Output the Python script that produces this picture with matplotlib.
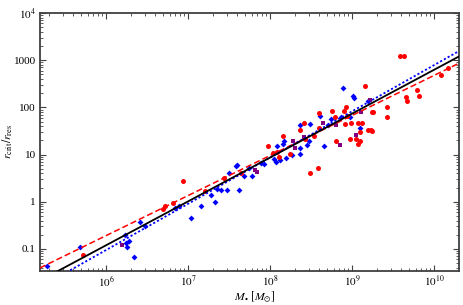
import numpy as np
import matplotlib
matplotlib.use("Agg")
import matplotlib.pyplot as plt
from matplotlib.ticker import FixedLocator, FixedFormatter, LogLocator, NullFormatter

plt.rcParams['font.family'] = ['Liberation Serif', 'DejaVu Serif']
plt.rcParams['mathtext.fontset'] = 'stix'

# log10(M_bh), log10(r_crit/r_res)
blue_logm = [5.28, 5.68, 6.23, 6.24, 6.26, 6.28, 6.34, 6.41, 6.48, 6.84, 6.89, 7.03,
             7.16, 7.28, 7.33, 7.35, 7.40, 7.47, 7.50, 7.59, 7.60, 7.62, 7.68, 7.74,
             7.78, 7.89, 7.93, 8.09, 8.07, 8.12, 8.17, 8.16, 8.20, 8.27, 8.36, 8.37,
             8.45, 8.47, 8.37, 8.49, 8.61, 8.71, 8.74, 8.66, 8.87, 8.97, 8.89, 9.01,
             9.02, 9.10, 9.20, 8.05]
blue_logr = [-1.36, -0.96, -0.70, -0.88, -0.96, -0.84, -1.17, -0.43, -0.51, -0.14, -0.085, -0.355,
             -0.10, 0.14, 0.0, 0.28, 0.24, 0.255, 0.60, 0.75, 0.78, 0.24, 0.55, 0.72,
             0.55, 0.82, 0.80, 1.18, 0.85, 0.89, 1.28, 1.23, 0.92, 0.99, 1.01, 1.13,
             1.21, 1.28, 1.62, 1.645, 1.815, 1.62, 1.745, 1.19, 1.79, 1.79, 2.40, 2.24,
             2.20, 1.56, 2.13, 0.90]

red_logm = [5.72, 6.70, 6.72, 6.82, 6.94, 7.21, 7.44, 7.65, 7.98, 8.04, 8.09, 8.11,
            8.16, 8.24, 8.36, 8.41, 8.42, 8.53, 8.60, 8.60, 8.49, 8.59, 8.75, 8.79,
            8.80, 8.90, 8.93, 8.91, 8.94, 8.99, 9.07, 9.12, 9.10, 9.20, 8.98, 9.05,
            9.10, 9.07, 9.16, 9.24, 9.26, 9.43, 9.43, 9.23, 9.24, 9.59, 9.63, 9.66,
            9.67, 9.79, 9.81, 10.08, 10.17]
red_logr = [-1.12, -0.155, -0.085, -0.03, 0.44, 0.23, 0.50, 0.60, 1.19, 1.04, 1.06, 0.94,
            1.40, 1.01, 1.53, 1.67, 1.32, 1.39, 1.89, 1.56, 0.61, 0.72, 1.915, 1.80,
            1.29, 1.93, 2.0, 1.645, 1.815, 1.66, 1.66, 1.66, 1.475, 1.52, 1.32, 1.32,
            1.28, 1.22, 2.45, 1.90, 1.91, 2.0, 1.79, 1.53, 1.49, 3.08, 3.08, 2.21,
            2.14, 2.37, 2.24, 2.68, 2.84]

purple_logm = [6.20, 7.82, 7.84, 8.28, 8.31, 8.41, 8.64, 8.80, 8.85, 9.05, 9.22, 9.11]
purple_logr = [-0.91, 0.67, 0.64, 1.28, 1.13, 1.38, 1.66, 1.63, 1.21, 1.42, 2.155, 1.90]

# power-law fits: log r = a + b * (log M - 10.28)
fit_black = (3.057, 0.93)
fit_red = (2.915, 0.849)
fit_blue = (3.17, 0.98)

x_ticks = [1e6, 1e7, 1e8, 1e9, 1e10]
x_labels = [r'$10^{6}$', r'$10^{7}$', r'$10^{8}$', r'$10^{9}$', r'$10^{10}$']
y_ticks = [0.1, 1, 10, 100, 1000, 1e4]
y_labels = ['0.1', '1', '10', '100', '1000', r'$10^{4}$']

xmin, xmax = 10**5.195, 10**10.30
ymin, ymax = 10**-1.468, 10**4.0

fig = plt.figure(figsize=(4.63, 3.05), dpi=100)
ax = fig.add_axes([0.0864, 0.1115, 0.9043, 0.8459])

ax.plot(10**np.array(blue_logm), 10**np.array(blue_logr), 'D', color='#0000ff',
        markersize=3.0, markeredgewidth=0, zorder=3)
ax.plot(10**np.array(red_logm), 10**np.array(red_logr), 'o', color='#ff0000',
        markersize=3.6, markeredgewidth=0, zorder=3)
ax.plot(10**np.array(purple_logm), 10**np.array(purple_logr), 's', color='#800080',
        markersize=3.2, markeredgewidth=0, zorder=3)

lx = np.linspace(np.log10(xmin), np.log10(xmax), 50)
for (a, b), col, ls, lw in [(fit_red, '#ff0000', (0, (4, 2)), 1.1),
                            (fit_blue, '#0000ff', (0, (1.2, 1.2)), 1.3),
                            (fit_black, 'black', '-', 1.3)]:
    ax.plot(10**lx, 10**(a + b * (lx - 10.28)), color=col, linestyle=ls, linewidth=lw, zorder=4)

ax.set_xscale('log')
ax.set_yscale('log')
ax.set_xlim(xmin, xmax)
ax.set_ylim(ymin, ymax)

ax.xaxis.set_major_locator(FixedLocator(x_ticks))
ax.xaxis.set_major_formatter(FixedFormatter(x_labels))
ax.yaxis.set_major_locator(FixedLocator(y_ticks))
ax.yaxis.set_major_formatter(FixedFormatter(y_labels))
ax.xaxis.set_minor_locator(LogLocator(base=10, subs=np.arange(2, 10), numticks=20))
ax.yaxis.set_minor_locator(LogLocator(base=10, subs=np.arange(2, 10), numticks=20))
ax.xaxis.set_minor_formatter(NullFormatter())
ax.yaxis.set_minor_formatter(NullFormatter())

ax.tick_params(which='both', direction='in', top=True, right=True, color='0.25',
               labelsize=8, pad=3)
ax.tick_params(axis='x', which='major', pad=2)
ax.tick_params(which='major', length=4, width=0.8)
ax.tick_params(which='minor', length=2, width=0.6)
for s in ax.spines.values():
    s.set_linewidth(1.3)
    s.set_color('0.25')

# axis labels placed in figure coords so they fit the small canvas
fig.text(255 / 463, 1 - 297.5 / 305, r'$M_{\bullet}\ [M_{\odot}]$', fontsize=8.5,
         ha='center', va='center')
fig.text(8 / 463, 1 - 141 / 305, r'$r_{\rm crit}/r_{\rm res}$', fontsize=8.5,
         ha='center', va='center', rotation=90)

fig.savefig('out.png', dpi=100)
